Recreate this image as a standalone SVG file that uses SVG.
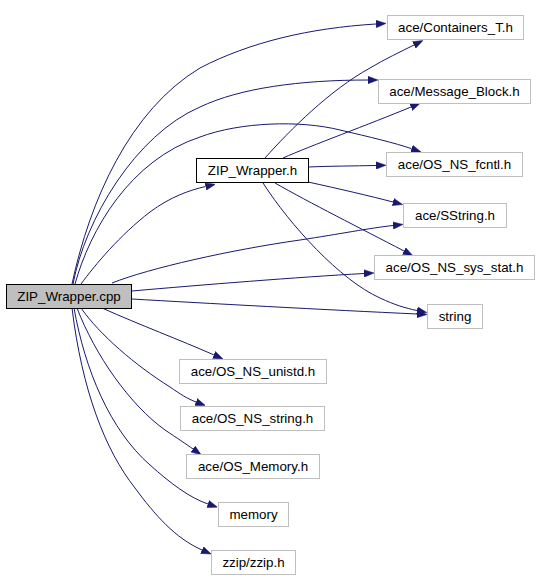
<svg xmlns="http://www.w3.org/2000/svg" width="539" height="579" viewBox="0 0 539 579">
<style>
.n rect{fill:#ffffff;stroke:#bfbfbf;stroke-width:1}
.n text{font-family:"Liberation Sans",Arial,Helvetica,sans-serif;font-size:13.33px;fill:#000000;text-anchor:middle}
.m rect{stroke:#000000}
.root rect{fill:#bfbfbf}
.e path{fill:none;stroke:#191970;stroke-width:1;marker-end:url(#arr)}
</style>
<defs>
<marker id="arr" viewBox="0 0 10 8" refX="0" refY="4" markerWidth="10" markerHeight="8" markerUnits="userSpaceOnUse" orient="auto">
<path d="M0,0.3 L10,4 L0,7.7 z" fill="#191970" stroke="#191970" stroke-width="0.5"/>
</marker>
</defs>
<rect width="539" height="579" fill="#ffffff"/>
<g id="edges" class="e">
<path d="M72,284 C90,200 130,110 200,68 C250,42 310,28 376,24"/>
<path d="M73,284 C85,220 135,135 200,107 C240,88 300,80 368,80"/>
<path d="M75,284 C90,230 130,160 200,137 C240,122 300,120 340,130 C370,137 395,143 411.6,148.7"/>
<path d="M81,284 C95,265 120,235 150,212 C170,197 190,190 205.6,186.5"/>
<path d="M112,283 C150,268 230,250 300,240 C340,234 370,228 393,225.5"/>
<path d="M132,291 C200,285 300,277 364,273.5"/>
<path d="M132,299 C200,303 330,310 417,314"/>
<path d="M102,308 C140,325 180,340 213.9,354.9"/>
<path d="M81,308 C100,335 135,365 170,387 C180,394 188,399 196,402"/>
<path d="M77,308 C95,355 130,405 165,430 C177,438 186,444 193,449"/>
<path d="M74,308 C85,370 110,430 150,465 C170,483 190,498 208,504"/>
<path d="M72,308 C82,390 105,450 135,488 C155,515 175,538 202,550"/>
<path d="M265,158 C290,130 330,90 370,68 C385,59 400,52 414,45"/>
<path d="M283,158 C310,146 370,124 411,107"/>
<path d="M308,167 C330,166 355,166 376,165.5"/>
<path d="M308,182 C340,189 370,196 393,202"/>
<path d="M275,183 C310,203 360,228 404,251"/>
<path d="M263,183 C290,225 340,280 380,298 C395,305 405,308 417,310.5"/>
</g>
<g id="node-zip-wrapper-cpp" class="n m root"><rect x="6.5" y="284.5" width="125" height="24"/><text x="69" y="300.5">ZIP_Wrapper.cpp</text></g>
<g id="node-zip-wrapper-h" class="n m"><rect x="196.5" y="158.5" width="112" height="24"/><text x="252.5" y="174.5">ZIP_Wrapper.h</text></g>
<g id="node-containers-t" class="n"><rect x="387.5" y="15.5" width="136" height="24"/><text x="455.5" y="31.5">ace/Containers_T.h</text></g>
<g id="node-message-block" class="n"><rect x="378.5" y="79.5" width="152" height="24"/><text x="454.5" y="95.5">ace/Message_Block.h</text></g>
<g id="node-os-ns-fcntl" class="n"><rect x="386.5" y="152.5" width="136" height="24"/><text x="454.5" y="168.5">ace/OS_NS_fcntl.h</text></g>
<g id="node-sstring" class="n"><rect x="403.5" y="203.5" width="103" height="24"/><text x="455" y="219.5">ace/SString.h</text></g>
<g id="node-os-ns-sys-stat" class="n"><rect x="374.5" y="255.5" width="160" height="24"/><text x="454.5" y="271.5">ace/OS_NS_sys_stat.h</text></g>
<g id="node-string" class="n"><rect x="427.5" y="304.5" width="55" height="24"/><text x="455" y="320.5">string</text></g>
<g id="node-os-ns-unistd" class="n"><rect x="179.5" y="359.5" width="147" height="24"/><text x="253" y="375.5">ace/OS_NS_unistd.h</text></g>
<g id="node-os-ns-string" class="n"><rect x="180.5" y="406.5" width="144" height="24"/><text x="252.5" y="422.5">ace/OS_NS_string.h</text></g>
<g id="node-os-memory" class="n"><rect x="186.5" y="454.5" width="133" height="24"/><text x="253" y="470.5">ace/OS_Memory.h</text></g>
<g id="node-memory" class="n"><rect x="218.5" y="502.5" width="70" height="24"/><text x="253.5" y="518.5">memory</text></g>
<g id="node-zzip" class="n"><rect x="211.5" y="550.5" width="84" height="24"/><text x="253.5" y="566.5">zzip/zzip.h</text></g>
</svg>
